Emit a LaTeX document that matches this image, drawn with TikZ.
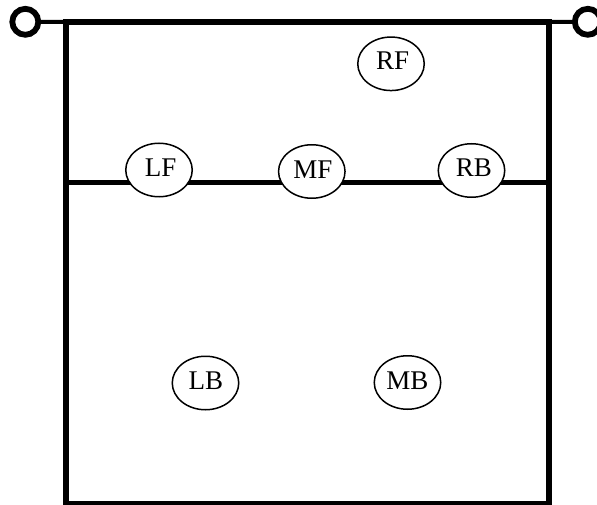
\documentclass[tikz,border=0pt]{standalone}
\usepackage{fontspec}
\setmainfont{Liberation Serif}
\usetikzlibrary{shapes.geometric}
\tikzset{
  wall/.style={line width=6pt,line cap=butt},
  stem/.style={line width=4pt,line cap=butt},
  net/.style={line width=5.2pt,line cap=butt},
  post/.style={circle,draw,line width=5.8pt,fill=white,minimum size=26pt,inner sep=0pt},
  player/.style={ellipse,draw,line width=1.5pt,fill=white,minimum width=66.5pt,minimum height=53.5pt,inner sep=0pt},
  tag/.style={font=\fontsize{27}{27}\selectfont,inner sep=0pt}
}
\begin{document}
\begin{tikzpicture}[x=1pt,y=-1pt]
\useasboundingbox (0,0) rectangle (597,505);
\clip (0,0) rectangle (597,505);
\coordinate (tl) at (66.3,22);
\coordinate (tr) at (548.7,22);
\coordinate (bl) at (66.3,504);
\coordinate (br) at (548.7,504);
\coordinate (ml) at (66.3,182.7);
\coordinate (mr) at (548.7,182.7);
\node[post] (pl) at (25.3,21.8) {};
\node[post] (pr) at (587.8,21.8) {};
\draw[stem] (pl) -- (tl);
\draw[stem] (tr) -- (pr);
\draw[wall,line join=miter] (tr) -- (tl) -- (bl) -- (br) -- cycle;
\draw[net] (ml) -- (mr);
\node[player,label={[tag,xshift=1.7pt,yshift=2.8pt]center:RF}] (rf) at (391,63.8) {};
\node[player,label={[tag,xshift=1.7pt,yshift=2pt]center:LF}] (lf) at (159,170) {};
\node[player,label={[tag,xshift=1.2pt,yshift=2pt]center:MF}] (mf) at (311.8,171.5) {};
\node[player,label={[tag,xshift=2.3pt,yshift=2.5pt]center:RB}] (rb) at (471.5,170.5) {};
\node[player,label={[tag,xshift=0.3pt,yshift=2.5pt]center:LB}] (lb) at (205.5,383) {};
\node[player,label={[tag,xshift=-0.2pt,yshift=2pt]center:MB}] (mb) at (407.5,382.5) {};
\end{tikzpicture}
\end{document}
